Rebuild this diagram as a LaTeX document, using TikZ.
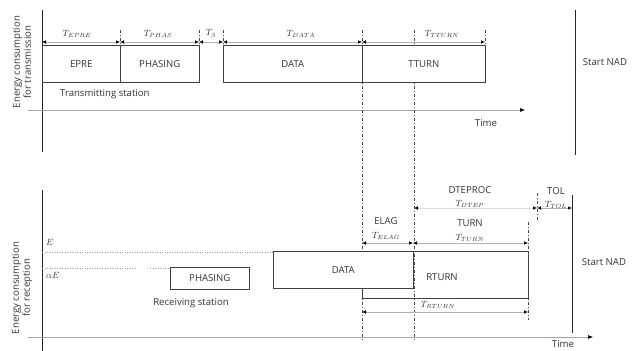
\documentclass[tikz,border=0pt]{standalone}
\usepackage{fontspec}
\setmainfont{Open Sans}
\usetikzlibrary{arrows.meta}
\begin{document}
\begin{tikzpicture}[x=1pt,y=-1pt,
  every node/.style={font=\fontsize{9.6}{11}\selectfont, inner sep=0pt, text=black!80},
  box/.style={draw=black!75, fill=white, line width=0.6pt, anchor=north west},
  axis/.style={draw=black!85, line width=0.9pt},
  timeaxis/.style={draw=black!35, line width=0.6pt, -{Latex[length=5pt,width=4pt,black]}},
  dim/.style={draw=black!30, line width=0.5pt, {Latex[length=4pt,width=3.5pt,black]}-{Latex[length=4pt,width=3.5pt,black]}},
  dashdot/.style={draw=black!70, line width=0.6pt, dash pattern=on 3pt off 2pt on 1pt off 2pt},
  level/.style={draw=black!40, line width=0.5pt, dotted},
  lbl/.style={font=\fontsize{9}{10}\selectfont}
]
\useasboundingbox (0,0) rectangle (633,351);

% ---------- transmission panel ----------
\draw[axis] (42,10) -- (42,152);
\node[rotate=90, align=center] (ylabT) at (22,62) {Energy consumption\\for transmission};
\draw[timeaxis] (28,110) -- (525,110);
\node (timeT) at (486,123) {Time};
\draw[axis] (575,10) -- (575,155);
\node (nadT) at (605,62) {Start NAD};

% dash-dot guides (drawn first so the boxes cover them)
\foreach \x in {120,199,223,485} \draw[dashdot] (\x,30) -- (\x,45);
\draw[dashdot] (362,30) -- (362,341);
\draw[dashdot] (414,30) -- (414,341);

\node[box, minimum width=78pt, minimum height=37pt] (epre) at (42,45) {EPRE};
\node[box, minimum width=79pt, minimum height=37pt] (phasT) at (120,45) {PHASING};
\node[box, minimum width=139pt, minimum height=37pt] (dataT) at (223,45) {DATA};
\node[box, minimum width=123pt, minimum height=37pt] (tturn) at (362,45) {TTURN};
\node[anchor=west] (txst) at (60,94) {Transmitting station};

% durations of the transmission phases
\coordinate (a0) at (42,42);  \coordinate (a1) at (120,42);
\coordinate (a2) at (199,42); \coordinate (a3) at (223,42);
\coordinate (a4) at (362,42); \coordinate (a5) at (485,42);
\draw[dim] (a0) -- (a1);
\draw[dim] (a1) -- (a2);
\draw[dim] (a2) -- (a3);
\draw[dim] (a3) -- (a4);
\draw[dim] (a4) -- (a5);
\node[lbl] (tepre) at (77,34) {$T_{EPRE}$};
\node[lbl] (tphas) at (158,34) {$T_{PHAS}$};
\node[lbl] (tb) at (211,34) {$T_{\beta}$};
\node[lbl] (tdata) at (301,34) {$T_{DATA}$};
\node[lbl] (ttturn) at (442,34) {$T_{TTURN}$};

% ---------- reception panel ----------
\draw[axis] (42,190) -- (42,351);
\node[rotate=90, align=center] (ylabR) at (22,288) {Energy consumption\\for reception};
\draw[timeaxis] (28,337) -- (593,337);
\node (timeR) at (563,344.5) {Time};
\draw[axis] (572,195) -- (572,333);
\node (nadR) at (604,262) {Start NAD};

\node[lbl, anchor=west] (lvE) at (46,242) {$E$};
\node[lbl, anchor=west] (lvaE) at (46,275) {$\alpha E$};
\draw[level] (42,252) -- (273,252);
\draw[level] (42,268) -- (135,268);
\draw[level] (150,268) -- (170,268);

\node[box, minimum width=79pt, minimum height=22pt] (phasR) at (170,267) {PHASING};
\node (rxst) at (191,303) {Receiving station};
\node[box, minimum width=140pt, minimum height=37pt] (dataR) at (273,251) {DATA};
\draw[draw=black!75, line width=0.6pt] (362,288) -- (362,298) -- (528,298) -- (528,251) -- (413,251);
\node (rturn) at (442,277) {RTURN};

\draw[dashdot] (528,222) -- (528,320);
\draw[dashdot] (537,193) -- (537,222);

% durations of the reception phases
\coordinate (b0) at (362,243); \coordinate (b1) at (413,243); \coordinate (b2) at (528,243);
\draw[dim] (b0) -- (b1);
\draw[dim] (b1) -- (b2);
\node (elag) at (386,221) {ELAG};
\node[lbl] (telag) at (386,236) {$T_{ELAG}$};
\node (turn) at (470,223) {TURN};
\node[lbl] (tturnR) at (470,238) {$T_{TURN}$};

\coordinate (c0) at (414,208); \coordinate (c1) at (537,208); \coordinate (c2) at (572,208);
\draw[dim, draw=black!12] (c0) -- (c1);
\draw[dim] (c1) -- (c2);
\node (dteproc) at (470,190) {DTEPROC};
\node[lbl] (tdtep) at (470,204) {$T_{DTEP}$};
\node (tol) at (556,191) {TOL};
\node[lbl] (ttol) at (556,205) {$T_{TOL}$};

\coordinate (d0) at (362,312); \coordinate (d1) at (528,312);
\draw[dim] (d0) -- (d1);
\node[lbl] (trturn) at (438,305) {$T_{RTURN}$};
\end{tikzpicture}
\end{document}
